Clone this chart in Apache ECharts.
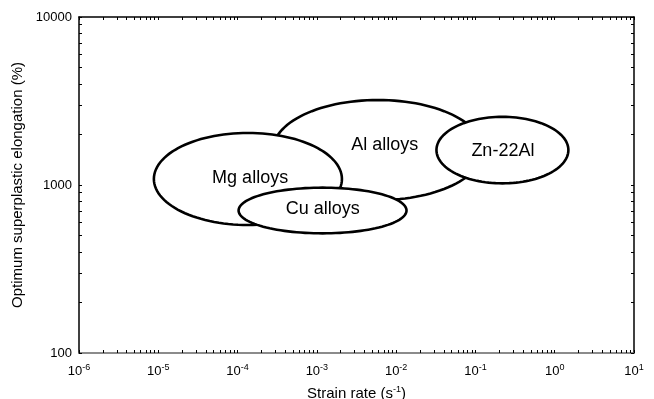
<!DOCTYPE html>
<html>
<head>
<meta charset="utf-8">
<script src="https://cdn.jsdelivr.net/npm/echarts@6/dist/echarts.min.js"></script>
<style>html,body{margin:0;padding:0;background:#fff}#c{width:654px;height:399px}</style>
</head>
<body>
<div id="c"></div>
<script>
// Regions (drawn in this order)
const alloys = ['Al alloys', 'Mg alloys', 'Cu alloys', 'Zn-22Al'];
// ellipse centre: strain rate (s^-1) and elongation (%)
const centerRate = [5.9e-3, 1.35e-4, 1.18e-3, 0.219];
const centerElong = [1614, 1086, 705, 1614];
// half-widths in decades (log10 units)
const halfRateDecades = [1.324, 1.186, 1.059, 0.832];
const halfElongDecades = [0.298, 0.274, 0.136, 0.198];
// label anchor positions
const labelRate = [7.2e-3, 1.44e-4, 1.19e-3, 0.222];
const labelElong = [1730, 1102, 719, 1592];

// axis ticks
const xMajor = [1e-6, 1e-5, 1e-4, 1e-3, 1e-2, 1e-1, 1, 10];
const yMajor = [100, 1000, 10000];

function minorsOf(majors) {
  const out = [];
  for (let i = 0; i < majors.length; i++) {
    out.push(majors[i]);
    if (i < majors.length - 1) {
      for (let k = 2; k <= 9; k++) out.push(+(majors[i] * k).toPrecision(6));
    }
  }
  return out;
}
const xTicks = minorsOf(xMajor);
const yTicks = minorsOf(yMajor);

const FONT = 'Liberation Sans, Arial, sans-serif';

const data = alloys.map((n, i) => [centerRate[i], centerElong[i], halfRateDecades[i], halfElongDecades[i], labelRate[i], labelElong[i], i]);

const chart = echarts.init(document.getElementById('c'), null, {renderer: 'canvas'});

const expLabel = v => {
  const e = Math.round(Math.log10(v));
  return '{b|10}{s|' + e + '}';
};
const richX = {
  b: {fontSize: 13, fontFamily: FONT, color: '#000', lineHeight: 16},
  s: {fontSize: 9, fontFamily: FONT, color: '#000', verticalAlign: 'top', lineHeight: 16}
};

const commonX = {
  type: 'log', logBase: 10, min: 1e-6, max: 10,
  splitLine: {show: false}
};
const commonY = {
  type: 'log', logBase: 10, min: 100, max: 10000,
  splitLine: {show: false}
};

chart.setOption({
  animation: false,
  backgroundColor: '#fff',
  grid: {left: 79, right: 20, top: 17, bottom: 46, containLabel: false, outerBoundsMode: 'none'},
  xAxis: [
    Object.assign({}, commonX, {
      position: 'bottom',
      axisLine: {show: true, lineStyle: {color: '#666', width: 1.5}},
      axisTick: {show: true, inside: true, length: 3, customValues: xTicks, lineStyle: {color: '#000'}},
      axisLabel: {show: true, margin: 10, customValues: xMajor, formatter: expLabel, rich: richX, color: '#000'},
      name: '{a|Strain rate (s}{s|-1}{a|)}',
      nameLocation: 'middle', nameGap: 32,
      nameTextStyle: {
        rich: {
          a: {fontSize: 15, fontFamily: FONT, color: '#000', lineHeight: 18},
          s: {fontSize: 9, fontFamily: FONT, color: '#000', verticalAlign: 'top', lineHeight: 18}
        }
      }
    }),
    Object.assign({}, commonX, {
      position: 'top',
      axisLine: {show: true, lineStyle: {color: '#000', width: 1.5}},
      axisTick: {show: true, inside: true, length: 3, customValues: xTicks, lineStyle: {color: '#000'}},
      axisLabel: {show: false}
    })
  ],
  yAxis: [
    Object.assign({}, commonY, {
      position: 'left',
      axisLine: {show: true, lineStyle: {color: '#000', width: 1.5}},
      axisTick: {show: true, inside: true, length: 3, customValues: yTicks, lineStyle: {color: '#000'}},
      axisLabel: {show: true, margin: 7, customValues: yMajor, fontSize: 13, fontFamily: FONT, color: '#000',
        formatter: v => String(Math.round(v))},
      name: 'Optimum superplastic elongation (%)',
      nameLocation: 'middle', nameGap: 46,
      nameTextStyle: {fontSize: 15, fontFamily: FONT, color: '#000'}
    }),
    Object.assign({}, commonY, {
      position: 'right',
      axisLine: {show: true, lineStyle: {color: '#000', width: 1.5}},
      axisTick: {show: true, inside: true, length: 3, customValues: yTicks, lineStyle: {color: '#000'}},
      axisLabel: {show: false}
    })
  ],
  series: [{
    type: 'custom',
    xAxisIndex: 0, yAxisIndex: 0,
    encode: {x: 0, y: 1},
    data: data,
    clip: true,
    renderItem: function (params, api) {
      const cx = api.value(0), cy = api.value(1);
      const rx = api.value(2), ry = api.value(3);
      const pts = [];
      const N = 120;
      for (let k = 0; k < N; k++) {
        const t = 2 * Math.PI * k / N;
        pts.push(api.coord([cx * Math.pow(10, rx * Math.cos(t)), cy * Math.pow(10, ry * Math.sin(t))]));
      }
      const lp = api.coord([api.value(4), api.value(5)]);
      const name = alloys[api.value(6)];
      return {
        type: 'group',
        children: [
          {type: 'polygon', shape: {points: pts}, style: {fill: '#fff', stroke: '#000', lineWidth: 2.6}},
          {type: 'text', x: lp[0], y: lp[1], style: {text: name, fill: '#000', font: '18px ' + FONT, align: 'center', verticalAlign: 'middle'}}
        ]
      };
    }
  }]
});
</script>
</body>
</html>
